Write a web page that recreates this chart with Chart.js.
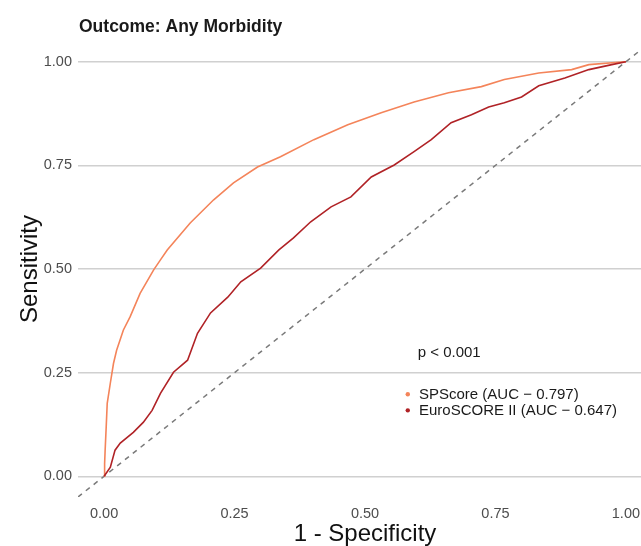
<html>
<head>
  <meta charset="UTF-8">
  <script src="https://cdn.jsdelivr.net/npm/chart.js@4.4.1/dist/chart.umd.min.js"></script>
  <style> body {padding: 0; margin: 0; overflow: hidden; background: #fff;} </style>
</head>
<body>

<canvas id="myChart" width="652" height="546"></canvas>

<script>

// ROC curves (x = 1 - specificity, y = sensitivity)
var spX = [0, 0.001, 0.002, 0.004, 0.006, 0.012, 0.018, 0.024, 0.037, 0.05, 0.069, 0.095, 0.108, 0.121, 0.165, 0.21, 0.248, 0.294, 0.338, 0.402, 0.467, 0.531, 0.594, 0.66, 0.723, 0.767, 0.833, 0.896, 0.929, 0.998, 1];
var spY = [0, 0.03, 0.063, 0.118, 0.176, 0.225, 0.272, 0.304, 0.353, 0.385, 0.441, 0.498, 0.522, 0.546, 0.611, 0.667, 0.708, 0.746, 0.771, 0.812, 0.848, 0.877, 0.903, 0.925, 0.94, 0.957, 0.973, 0.981, 0.993, 1, 1];

var esX = [0, 0.012, 0.021, 0.031, 0.056, 0.075, 0.092, 0.108, 0.133, 0.16, 0.179, 0.204, 0.237, 0.262, 0.3, 0.335, 0.363, 0.396, 0.435, 0.473, 0.512, 0.556, 0.594, 0.627, 0.665, 0.704, 0.737, 0.767, 0.8, 0.833, 0.883, 0.929, 0.973, 1];
var esY = [0, 0.022, 0.063, 0.08, 0.106, 0.13, 0.159, 0.2, 0.251, 0.28, 0.345, 0.394, 0.432, 0.469, 0.502, 0.546, 0.575, 0.614, 0.65, 0.674, 0.722, 0.751, 0.783, 0.812, 0.853, 0.872, 0.891, 0.901, 0.915, 0.942, 0.961, 0.981, 0.993, 1];

var refX = [-0.05, 1.05];
var refY = [-0.05, 1.05];

var tickValues = [0, 0.25, 0.5, 0.75, 1];
var seriesNames = ['SPScore (AUC \u2212 0.797)', 'EuroSCORE II (AUC \u2212 0.647)'];
var seriesColors = ['#f4845a', '#b02226'];
var titleText = 'Outcome: Any Morbidity';
var pText = 'p < 0.001';

function toPoints(xs, ys) {
    var pts = [];
    for (var i = 0; i < xs.length; i++) {
        pts.push({x: xs[i], y: ys[i]});
    }
    return pts;
}

var fontFam = '"Liberation Sans", Arial, Helvetica, sans-serif';

// title, p value and the little legend inside the plot
var annotations = {
    id: 'annotations',
    afterDraw: function(chart) {
        var ctx = chart.ctx;
        var xs = chart.scales.x, ys = chart.scales.y;
        ctx.save();
        ctx.fillStyle = '#1a1a1a';
        ctx.textBaseline = 'alphabetic';
        ctx.font = 'bold 17.5px ' + fontFam;
        ctx.fillText(titleText, chart.chartArea.left + 1, 31.5);

        ctx.font = '15px ' + fontFam;
        ctx.fillText(pText, xs.getPixelForValue(0.601), ys.getPixelForValue(0.287));

        var rows = [0.198, 0.159];
        for (var i = 0; i < seriesNames.length; i++) {
            var cy = ys.getPixelForValue(rows[i]);
            ctx.fillStyle = seriesColors[i];
            ctx.beginPath();
            ctx.arc(xs.getPixelForValue(0.582), cy, 2.2, 0, Math.PI * 2);
            ctx.fill();
            ctx.fillStyle = '#1a1a1a';
            ctx.textBaseline = 'middle';
            ctx.fillText(seriesNames[i], xs.getPixelForValue(0.6035), cy + 0.5);
        }
        ctx.restore();
    }
};

var ctx = document.getElementById('myChart').getContext('2d');
var myChart = new Chart(ctx, {
    type: 'scatter',
    data: {
        datasets: [{
            label: seriesNames[1],
            data: toPoints(esX, esY),
            showLine: true,
            borderColor: seriesColors[1],
            borderWidth: 1.6,
            pointRadius: 0
        }, {
            label: seriesNames[0],
            data: toPoints(spX, spY),
            showLine: true,
            borderColor: seriesColors[0],
            borderWidth: 1.6,
            pointRadius: 0
        }, {
            label: 'reference',
            data: toPoints(refX, refY),
            showLine: true,
            borderColor: '#7a7a7a',
            borderWidth: 1.5,
            borderDash: [5, 5],
            pointRadius: 0
        }]
    },
    options: {
        responsive: false,
        animation: false,
        layout: {padding: {top: 41, left: 0, right: 0, bottom: 0}},
        plugins: {
            legend: {display: false},
            tooltip: {enabled: false}
        },
        scales: {
            x: {
                type: 'linear',
                min: -0.05,
                max: 1.05,
                afterBuildTicks: function(s) { s.ticks = tickValues.map(function(v) { return {value: v}; }); },
                afterFit: function(s) { s.height = 49; },
                grid: {display: false, drawTicks: false},
                border: {display: false},
                ticks: {
                    padding: 8,
                    color: '#4d4d4d',
                    font: {family: fontFam, size: 14.5},
                    callback: function(v) { return v.toFixed(2); }
                },
                title: {
                    display: true,
                    text: '1 - Specificity',
                    color: '#111',
                    font: {family: fontFam, size: 24},
                    padding: {top: 0, bottom: -3}
                }
            },
            y: {
                type: 'linear',
                min: -0.05,
                max: 1.05,
                afterBuildTicks: function(s) { s.ticks = tickValues.map(function(v) { return {value: v}; }); },
                afterFit: function(s) { s.width = 78; },
                grid: {color: '#d0d0d0', lineWidth: 1.5, drawTicks: false},
                border: {display: false},
                ticks: {
                    padding: 6,
                    color: '#4d4d4d',
                    font: {family: fontFam, size: 14.5},
                    callback: function(v) { return v.toFixed(2); }
                },
                title: {
                    display: true,
                    text: 'Sensitivity',
                    color: '#111',
                    font: {family: fontFam, size: 24},
                    padding: {top: 16, bottom: 0}
                }
            }
        }
    },
    plugins: [annotations]
});

</script>
</body>
</html>
